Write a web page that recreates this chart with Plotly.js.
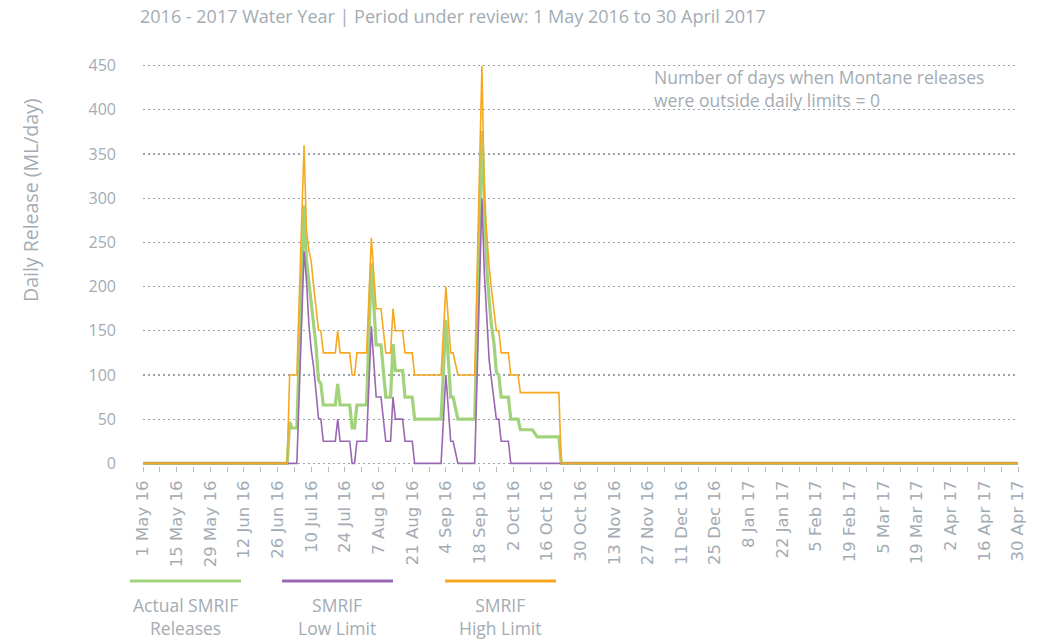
<!DOCTYPE html>
<html><head><meta charset="utf-8">
<script src="https://cdn.plot.ly/plotly-3.0.1.min.js"></script>
<style>html,body{margin:0;padding:0;background:#fff}#chart{width:1044px;height:640px}</style>
</head><body><div id="chart"></div>
<script>
// SMRIF High Limit (ML/day)
const highDates = ['2016-05-01','2016-06-30','2016-07-01','2016-07-04','2016-07-07','2016-07-08','2016-07-09','2016-07-10','2016-07-11','2016-07-12','2016-07-13','2016-07-14','2016-07-15','2016-07-20','2016-07-21','2016-07-22','2016-07-26','2016-07-27','2016-07-28','2016-07-29','2016-08-02','2016-08-04','2016-08-06','2016-08-08','2016-08-10','2016-08-12','2016-08-13','2016-08-14','2016-08-17','2016-08-18','2016-08-21','2016-08-22','2016-09-02','2016-09-04','2016-09-06','2016-09-07','2016-09-09','2016-09-16','2016-09-19','2016-09-20','2016-09-21','2016-09-22','2016-09-23','2016-09-24','2016-09-25','2016-09-26','2016-09-27','2016-09-30','2016-10-01','2016-10-04','2016-10-05','2016-10-21','2016-10-22','2017-04-30'];
const highVals  = [0,0,100,100,360,264,241,228,200,173,151,150,125,125,150,125,125,100,100,125,125,255,175,175,125,125,175,150,150,125,125,100,100,200,125,125,100,100,450,298,256,222,196,173,150,150,125,125,100,100,80,80,0,0];

// Actual SMRIF Releases (ML/day)
const actualDates = ['2016-05-01','2016-06-30','2016-07-01','2016-07-02','2016-07-04','2016-07-07','2016-07-08','2016-07-09','2016-07-10','2016-07-11','2016-07-12','2016-07-13','2016-07-14','2016-07-15','2016-07-20','2016-07-21','2016-07-22','2016-07-26','2016-07-27','2016-07-28','2016-07-29','2016-08-02','2016-08-04','2016-08-06','2016-08-08','2016-08-10','2016-08-12','2016-08-13','2016-08-14','2016-08-17','2016-08-18','2016-08-21','2016-08-22','2016-09-02','2016-09-04','2016-09-06','2016-09-07','2016-09-09','2016-09-16','2016-09-19','2016-09-20','2016-09-21','2016-09-22','2016-09-23','2016-09-24','2016-09-25','2016-09-26','2016-09-27','2016-09-30','2016-10-01','2016-10-04','2016-10-05','2016-10-10','2016-10-12','2016-10-21','2016-10-22','2017-04-30'];
const actualVals  = [0,0,47,40,40,292,230,204,181,158,132,94,90,66,66,90,66,66,40,40,66,66,226,134,134,75,75,135,105,105,75,75,50,50,162,75,75,50,50,376,294,222,185,155,136,103,100,75,75,50,50,38,38,30,30,0,0];

// SMRIF Low Limit (ML/day)
const lowDates = ['2016-05-01','2016-07-04','2016-07-07','2016-07-08','2016-07-09','2016-07-10','2016-07-11','2016-07-12','2016-07-13','2016-07-14','2016-07-15','2016-07-20','2016-07-21','2016-07-22','2016-07-26','2016-07-27','2016-07-28','2016-07-29','2016-08-02','2016-08-04','2016-08-06','2016-08-08','2016-08-10','2016-08-12','2016-08-13','2016-08-14','2016-08-17','2016-08-18','2016-08-21','2016-08-22','2016-09-02','2016-09-04','2016-09-06','2016-09-07','2016-09-09','2016-09-16','2016-09-19','2016-09-20','2016-09-21','2016-09-22','2016-09-23','2016-09-24','2016-09-25','2016-09-26','2016-09-27','2016-09-30','2016-10-01','2017-04-30'];
const lowVals  = [0,0,240,207,158,128,109,79,51,50,25,25,50,25,25,0,0,25,25,155,75,75,25,25,75,50,50,25,25,0,0,100,25,25,0,0,300,215,158,117,94,71,50,50,25,25,0,0];

const yTicks = [0,50,100,150,200,250,300,350,400,450];
const seriesNames = ['Actual SMRIF<br>Releases','SMRIF<br>Low Limit','SMRIF<br>High Limit'];
const titleText = '2016 - 2017 Water Year | Period under review: 1 May 2016 to 30 April 2017';
const noteText = 'Number of days when Montane releases<br>were outside daily limits = 0';
const yTitle = 'Daily Release (ML/day)';

const GREEN = '#a2d37c', PURPLE = '#9a68b2', ORANGE = '#f6a821', GREY = '#a3acb4';
const TXT = '"Open Sans", Lato, sans-serif';

const traces = [
  {x: actualDates, y: actualVals, type:'scatter', mode:'lines', name:'Actual', line:{color:GREEN, width:3.2}},
  {x: lowDates, y: lowVals, type:'scatter', mode:'lines', name:'Low', line:{color:PURPLE, width:1.6}},
  {x: highDates, y: highVals, type:'scatter', mode:'lines', name:'High', line:{color:ORANGE, width:1.6}}
];

const legendItems = [
  {x0:130, x1:241, c:GREEN},
  {x0:282, x1:393, c:PURPLE},
  {x0:445, x1:556, c:ORANGE}
];
const shapes = legendItems.map(it => ({type:'line', xref:'paper', yref:'paper',
  x0:(it.x0-143)/875, x1:(it.x1-143)/875, y0:(640-581-174)/403, y1:(640-581-174)/403,
  line:{color:it.c, width:3}}));

const annotations = [
  {xref:'paper', yref:'paper', x:(30-143)/875, y:(640-200-174)/403, text:yTitle, textangle:-90,
   showarrow:false, font:{family:TXT, size:19.5, color:GREY}, xanchor:'center', yanchor:'middle'},
  {xref:'paper', yref:'paper', x:(652-143)/875, y:(640-88-174)/403, text:noteText, align:'left',
   showarrow:false, font:{family:TXT, size:17.5, color:GREY}, xanchor:'left', yanchor:'middle'}
];
const labelCenters = [185, 337, 500];
seriesNames.forEach((t,i) => annotations.push({xref:'paper', yref:'paper', x:(labelCenters[i]-143)/875,
  y:(640-616-174)/403, text:t, showarrow:false, align:'center', xanchor:'center', yanchor:'middle',
  font:{family:TXT, size:17.5, color:GREY}}));

const DAY = 86400000;
const layout = {
  width:1044, height:640,
  margin:{l:143, r:26, t:63, b:174, pad:0},
  paper_bgcolor:'#fff', plot_bgcolor:'#fff',
  showlegend:false,
  title:{text:titleText, xref:'container', yref:'container', x:140/1044, xanchor:'left', y:1-17/640, yanchor:'middle',
    font:{family:TXT, size:18, color:GREY}},
  xaxis:{type:'date', range:['2016-05-01','2017-04-30'], tick0:'2016-05-01', dtick:14*DAY, tickformat:'%-d %b %y',
    tickangle:-90, ticks:'outside', ticklen:5, tickcolor:'#b5bcc3', tickwidth:1,
    minor:{dtick:7*DAY, tick0:'2016-05-01', ticks:'outside', ticklen:5, tickcolor:'#b5bcc3', showgrid:false},
    showgrid:false, zeroline:false, showline:false, ticklabelstandoff:2,
    tickfont:{family:'"DejaVu Sans", Verdana, sans-serif', size:16.5, color:GREY}, fixedrange:true},
  yaxis:{range:[-3,453], tickvals:yTicks, ticks:'', showgrid:true, gridcolor:'#9aa3ab', gridwidth:1.2,
    griddash:'1.5px,3.5px', zeroline:false, showline:false, ticklabelstandoff:26,
    tickfont:{family:TXT, size:16, color:GREY}, fixedrange:true},
  shapes:shapes,
  annotations:annotations
};
Plotly.newPlot('chart', traces, layout, {staticPlot:true, displayModeBar:false});
</script>
</body></html>
